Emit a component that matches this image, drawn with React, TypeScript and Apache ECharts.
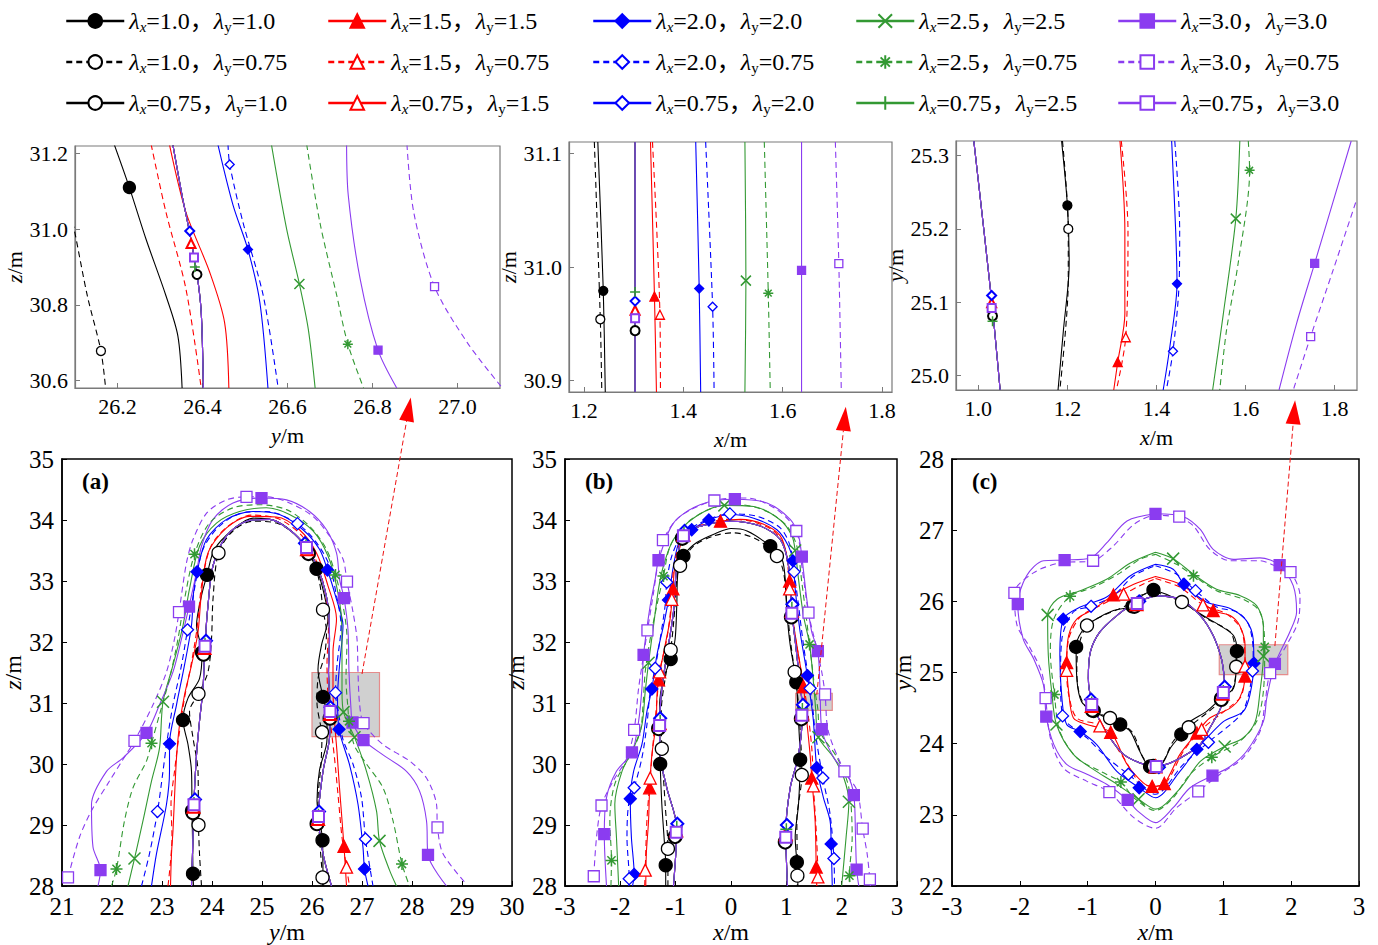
import React, { useEffect, useRef } from 'react';
import * as echarts from 'echarts';

// ---------------- labels ----------------
const LAMBDA_EQUAL = ['1.0', '1.5', '2.0', '2.5', '3.0'];
const LAMBDA_SMALL = '0.75';
const SERIES_NAMES = [
  ...LAMBDA_EQUAL.map((v) => `λx=${v}，λy=${v}`),
  ...LAMBDA_EQUAL.map((v) => `λx=${v}，λy=${LAMBDA_SMALL}`),
  ...LAMBDA_EQUAL.map((v) => `λx=${LAMBDA_SMALL}，λy=${v}`),
];
const COLORS = ['#000000', '#ff0000', '#0000ff', '#339933', '#8b3cf0'];

const X_NAMES = ['y', 'x', 'x', 'y', 'x', 'x'];
const Y_NAMES = ['z', 'z', 'y', 'z', 'z', 'y'];
const PANEL_TAGS = ['(a)', '(b)', '(c)'];

const X_RANGE = [[26.1, 27.1], [1.17, 1.82], [0.95, 1.85], [21, 30], [-3, 3], [-3, 3]];
const Y_RANGE = [[30.58, 31.22], [30.89, 31.11], [24.98, 25.32], [28, 35], [28, 35], [22, 28]];
const X_TICKS = [
  [26.2, 26.4, 26.6, 26.8, 27.0],
  [1.2, 1.4, 1.6, 1.8],
  [1.0, 1.2, 1.4, 1.6, 1.8],
  [21, 22, 23, 24, 25, 26, 27, 28, 29, 30],
  [-3, -2, -1, 0, 1, 2, 3],
  [-3, -2, -1, 0, 1, 2, 3],
];
const Y_TICKS = [
  [30.6, 30.8, 31.0, 31.2],
  [30.9, 31.0, 31.1],
  [25.0, 25.1, 25.2, 25.3],
  [28, 29, 30, 31, 32, 33, 34, 35],
  [28, 29, 30, 31, 32, 33, 34, 35],
  [22, 23, 24, 25, 26, 27, 28],
];

// zoom rectangles in the main panels
const RECT_A = [[26.0, 30.45], [27.35, 31.5]];
const RECT_B = [[1.17, 30.88], [1.83, 31.16]];
const RECT_C = [[0.94, 24.97], [1.95, 25.39]];

// ---------------- inset 1 (y, z) ----------------
const I1_S1 = [[26.192,31.225],[26.228,31.11],[26.267,30.974],[26.314,30.824],[26.342,30.718],[26.352,30.58]];
const I1_S2 = [[26.322,31.225],[26.361,31.045],[26.417,30.886],[26.452,30.753],[26.462,30.58]];
const I1_S3 = [[26.436,31.225],[26.472,31.063],[26.507,30.946],[26.535,30.806],[26.554,30.58]];
const I1_S4 = [[26.562,31.225],[26.598,31.0],[26.628,30.855],[26.649,30.735],[26.665,30.58]];
const I1_S5 = [[26.739,31.225],[26.743,31.089],[26.771,30.868],[26.813,30.68],[26.857,30.58]];
const I1_D1 = [[26.06,31.2],[26.098,31.0],[26.129,30.824],[26.161,30.678],[26.172,30.58]];
const I1_D2 = [[26.279,31.225],[26.314,31.045],[26.361,30.842],[26.397,30.58]];
const I1_D3 = [[26.46,31.225],[26.464,31.171],[26.495,31.019],[26.543,30.824],[26.578,30.58]];
const I1_D4 = [[26.645,31.225],[26.676,31.019],[26.716,30.824],[26.742,30.696],[26.779,30.58]];
const I1_D5 = [[26.881,31.225],[26.897,31.045],[26.946,30.848],[27.023,30.7],[27.102,30.585]];
const I1_075 = [[26.33,31.225],[26.352,31.089],[26.369,30.995],[26.387,30.881],[26.397,30.78],[26.402,30.58]];
const I1_MARKS = [
  [[26.228,31.11]], [], [[26.507,30.946]], [[26.628,30.855]], [[26.813,30.68]],
  [[26.161,30.678]], [], [[26.464,31.171]], [[26.742,30.696]], [[26.946,30.848]],
  [[26.387,30.88]], [[26.373,30.962]], [[26.37,30.995]], [[26.382,30.9]], [[26.38,30.925]],
];

// ---------------- inset 2 (x, z) ----------------
const I2_S1 = [[1.228,31.11],[1.239,30.979],[1.243,30.89]];
const I2_S2 = [[1.334,31.11],[1.342,30.974],[1.346,30.89]];
const I2_S3 = [[1.425,31.11],[1.432,30.981],[1.435,30.89]];
const I2_S4 = [[1.524,31.11],[1.526,30.988],[1.524,30.89]];
const I2_S5 = [[1.638,31.11],[1.638,30.997],[1.638,30.89]];
const I2_D1 = [[1.221,31.11],[1.233,30.954],[1.236,30.89]];
const I2_D2 = [[1.338,31.11],[1.353,30.958],[1.354,30.89]];
const I2_D3 = [[1.445,31.11],[1.459,30.965],[1.462,30.89]];
const I2_D4 = [[1.563,31.11],[1.571,30.977],[1.575,30.89]];
const I2_D5 = [[1.706,31.11],[1.713,31.003],[1.718,30.89]];
const I2_075 = [[1.303,31.11],[1.303,30.95],[1.303,30.89]];
const I2_MARKS = [
  [[1.239,30.979]], [[1.342,30.974]], [[1.432,30.981]], [[1.526,30.988]], [[1.638,30.997]],
  [[1.233,30.954]], [[1.353,30.958]], [[1.459,30.965]], [[1.571,30.977]], [[1.713,31.003]],
  [[1.303,30.944]], [[1.303,30.962]], [[1.303,30.97]], [[1.303,30.978]], [[1.303,30.955]],
];

// ---------------- inset 3 (x, y) ----------------
const I3_S1 = [[1.187,25.32],[1.2,25.232],[1.204,25.152],[1.191,25.061],[1.179,24.98]];
const I3_S2 = [[1.318,25.32],[1.329,25.198],[1.329,25.084],[1.313,25.018],[1.304,24.98]];
const I3_S3 = [[1.434,25.32],[1.443,25.198],[1.446,25.125],[1.43,25.039],[1.415,24.98]];
const I3_S4 = [[1.587,25.32],[1.578,25.214],[1.55,25.084],[1.526,24.98]];
const I3_S5 = [[1.837,25.32],[1.755,25.153],[1.714,25.07],[1.675,24.98]];
const I3_D1 = [[1.189,25.32],[1.202,25.2],[1.202,25.13],[1.183,24.98]];
const I3_D2 = [[1.321,25.32],[1.336,25.198],[1.331,25.052],[1.31,24.98]];
const I3_D3 = [[1.441,25.32],[1.452,25.198],[1.451,25.13],[1.437,25.033],[1.422,24.98]];
const I3_D4 = [[1.606,25.32],[1.609,25.28],[1.583,25.152],[1.557,25.061],[1.542,24.98]];
const I3_D5 = [[1.847,25.236],[1.796,25.143],[1.746,25.053],[1.707,24.98]];
const I3_075 = [[0.99,25.32],[1.03,25.102],[1.049,24.98]];
const I3_MARKS = [
  [[1.2,25.232]], [[1.313,25.018]], [[1.446,25.125]], [[1.578,25.214]], [[1.755,25.153]],
  [[1.202,25.2]], [[1.331,25.052]], [[1.437,25.033]], [[1.609,25.28]], [[1.746,25.053]],
  [[1.032,25.081]], [[1.03,25.099]], [[1.03,25.109]], [[1.032,25.074]], [[1.03,25.092]],
];

// ---------------- panel (a) (y, z) ----------------
const A_S1 = [[23.63,28.0],[23.62,28.2],[23.61,28.8],[23.6,29.23],[23.59,29.88],[23.52,30.32],[23.42,30.72],[23.52,31.08],[23.75,31.4],[23.8,31.83],[23.69,32.27],[23.79,32.76],[23.9,33.1],[24.05,33.52],[24.42,33.84],[24.82,34.03],[25.29,33.98],[25.75,33.68],[26.09,33.2],[26.25,32.76],[26.32,32.38],[26.19,31.95],[26.12,31.55],[26.22,31.1],[26.3,30.8],[26.3,30.4],[26.15,29.9],[26.1,29.4],[26.21,28.75],[26.22,28.0]];
const A_S2 = [[23.17,28.0],[23.19,28.53],[23.22,28.91],[23.25,29.45],[23.29,30.1],[23.35,30.64],[23.45,31.13],[23.59,31.62],[23.72,32.16],[23.79,32.81],[23.92,33.46],[24.29,33.87],[24.75,34.06],[25.29,34.05],[25.75,33.84],[26.09,33.46],[26.32,32.92],[26.49,32.38],[26.42,31.84],[26.42,31.19],[26.46,30.6],[26.5,30.2],[26.55,29.61],[26.64,28.65],[26.69,28.0]];
const A_S3 = [[22.79,28.0],[22.89,28.53],[23.09,29.34],[23.15,29.88],[23.15,30.33],[23.29,30.97],[23.45,31.62],[23.59,32.27],[23.63,32.8],[23.7,33.15],[23.89,33.68],[24.29,34.01],[24.82,34.14],[25.35,34.09],[25.82,33.84],[26.15,33.52],[26.31,33.18],[26.49,32.7],[26.62,32.27],[26.55,31.62],[26.51,31.08],[26.54,30.57],[26.75,29.99],[26.92,29.34],[27.02,28.63],[27.05,28.28],[27.12,28.0]];
const A_S4 = [[22.32,28.0],[22.45,28.45],[22.62,29.07],[22.79,29.72],[22.95,30.26],[23.02,31.02],[23.22,31.62],[23.42,32.27],[23.55,32.87],[23.75,33.57],[24.09,33.95],[24.55,34.14],[25.09,34.2],[25.55,34.09],[26.02,33.82],[26.32,33.41],[26.49,32.92],[26.59,32.38],[26.6,31.78],[26.6,31.2],[26.63,30.85],[26.85,30.44],[27.09,29.88],[27.29,29.23],[27.35,28.74],[27.55,28.26],[27.69,28.0]];
const A_S5 = [[21.72,28.0],[21.77,28.26],[21.62,28.64],[21.59,29.34],[21.89,29.88],[22.22,30.1],[22.69,30.51],[22.95,30.97],[23.22,31.51],[23.39,32.05],[23.54,32.58],[23.69,33.14],[23.79,33.57],[24.02,34.01],[24.42,34.28],[24.99,34.36],[25.49,34.33],[25.95,34.14],[26.29,33.84],[26.49,33.46],[26.55,33.03],[26.64,32.72],[26.72,32.2],[26.74,31.5],[26.78,30.9],[26.81,30.68],[27.03,30.39],[27.42,30.15],[27.89,29.88],[28.15,29.56],[28.29,29.07],[28.32,28.51],[28.69,28.0]];
const A_D1 = [[23.79,28.0],[23.75,28.53],[23.73,29.0],[23.72,29.88],[23.62,30.43],[23.55,30.86],[23.73,31.15],[23.92,31.51],[23.99,32.05],[24.02,32.7],[24.13,33.46],[24.42,33.82],[24.82,33.98],[25.29,33.95],[25.69,33.74],[25.99,33.41],[26.15,32.98],[26.22,32.53],[26.29,32.16],[26.25,31.78],[26.12,31.4],[26.1,31.0],[26.16,30.68],[26.2,30.52],[26.18,30.0],[26.12,29.4],[26.15,28.8],[26.21,28.14],[26.22,28.0]];
const A_D2 = [[23.12,28.0],[23.2,28.8],[23.18,29.34],[23.25,29.88],[23.35,30.53],[23.45,31.08],[23.58,31.62],[23.7,32.22],[23.8,32.98],[23.98,33.57],[24.32,33.9],[24.8,34.08],[25.33,34.02],[25.8,33.74],[26.1,33.3],[26.25,32.87],[26.33,32.27],[26.3,31.62],[26.32,31.1],[26.38,30.6],[26.45,30.1],[26.52,29.5],[26.6,28.8],[26.69,28.31],[26.75,28.0]];
const A_D3 = [[22.59,28.0],[22.75,28.53],[22.91,29.22],[23.02,29.88],[23.09,30.32],[23.22,30.97],[23.39,31.62],[23.51,32.2],[23.65,32.87],[23.82,33.52],[24.15,33.9],[24.62,34.12],[25.09,34.14],[25.71,33.94],[26.09,33.63],[26.35,33.25],[26.49,32.76],[26.58,32.27],[26.5,31.62],[26.47,31.17],[26.54,30.8],[26.62,30.4],[26.82,30.0],[26.99,29.45],[27.07,28.77],[27.22,28.0]];
const A_D4 = [[21.99,28.0],[22.09,28.28],[22.25,29.07],[22.42,29.61],[22.69,30.05],[22.79,30.34],[22.95,30.81],[23.15,31.4],[23.32,32.05],[23.45,32.7],[23.65,33.44],[23.95,33.95],[24.42,34.2],[24.95,34.25],[25.49,34.17],[25.95,33.9],[26.29,33.52],[26.47,33.1],[26.62,32.6],[26.7,32.05],[26.68,31.4],[26.72,30.9],[26.74,30.7],[26.85,30.3],[27.09,30.0],[27.42,29.61],[27.62,29.07],[27.8,28.36],[27.95,28.0]];
const A_D5 = [[21.12,28.14],[21.35,28.8],[21.6,29.25],[21.95,29.72],[22.2,30.05],[22.45,30.38],[22.82,30.97],[23.09,31.51],[23.25,32.05],[23.34,32.49],[23.49,33.3],[23.62,33.68],[23.9,34.12],[24.29,34.33],[24.69,34.38],[25.09,34.38],[25.55,34.28],[26.02,34.06],[26.35,33.74],[26.62,33.36],[26.7,32.99],[26.82,32.49],[26.9,32.05],[26.92,31.51],[26.95,31.0],[27.03,30.67],[27.42,30.32],[27.95,30.05],[28.29,29.77],[28.49,29.34],[28.51,28.96],[28.62,28.53],[29.1,28.02]];
const A_075 = [[23.59,28.0],[23.62,28.8],[23.64,29.4],[23.69,30.15],[23.75,30.7],[23.82,31.24],[23.86,31.95],[23.92,32.6],[24.02,33.25],[24.29,33.74],[24.69,33.98],[25.15,34.01],[25.55,33.84],[25.89,33.55],[26.15,33.14],[26.32,32.6],[26.35,32.05],[26.33,31.51],[26.36,30.9],[26.35,30.43],[26.22,29.88],[26.13,29.15],[26.22,28.53],[26.39,28.0]];
const A_MARKS = [
  [[23.62,28.2],[23.6,29.23],[23.42,30.72],[23.8,31.83],[23.9,33.1],[26.09,33.2],[26.22,31.1],[26.21,28.75]],
  [[26.64,28.65]],
  [[23.15,30.33],[23.7,33.15],[26.31,33.18],[26.54,30.57],[27.05,28.28]],
  [[22.45,28.45],[23.02,31.02],[26.63,30.85],[26.85,30.44],[27.35,28.74]],
  [[21.77,28.26],[22.69,30.51],[23.54,32.58],[24.99,34.36],[26.64,32.72],[26.81,30.68],[27.03,30.39],[28.32,28.51]],
  [[23.73,29.0],[23.73,31.15],[24.13,33.46],[26.22,32.53],[26.2,30.52],[26.21,28.14]],
  [[26.69,28.31]],
  [[22.91,29.22],[23.51,32.2],[25.71,33.94],[26.47,31.17],[27.07,28.77]],
  [[22.09,28.28],[22.79,30.34],[23.65,33.44],[26.47,33.1],[26.74,30.7],[27.8,28.36]],
  [[21.12,28.14],[22.45,30.38],[23.34,32.49],[24.69,34.38],[26.7,32.99],[27.03,30.67],[28.51,28.96]],
  [[23.62,29.2],[23.83,31.8],[25.93,33.45],[26.36,30.75],[26.1,29.02]],
  [[23.63,29.3],[23.85,31.9],[25.9,33.52],[26.36,30.82],[26.12,29.1]],
  [[23.66,29.42],[23.88,32.02],[25.86,33.62],[26.37,30.93],[26.14,29.22]],
  [[23.64,29.36],[23.86,31.97],[25.88,33.58],[26.36,30.88],[26.13,29.17]],
  [[23.64,29.33],[23.86,31.93],[25.89,33.55],[26.36,30.86],[26.13,29.14]],
];

// ---------------- panel (b) (x, z) ----------------
const B_S1 = [[-1.18,28.0],[-1.18,28.34],[-1.21,28.8],[-1.25,29.34],[-1.28,30.0],[-1.29,30.43],[-1.29,30.97],[-1.22,31.4],[-1.09,31.72],[-1.01,32.05],[-0.98,32.6],[-0.96,33.14],[-0.86,33.41],[-0.62,33.63],[-0.25,33.79],[0,33.86],[0.29,33.82],[0.71,33.57],[0.92,33.36],[0.98,33.03],[1.01,32.49],[1.07,31.95],[1.18,31.34],[1.22,30.7],[1.25,30.07],[1.22,29.34],[1.16,28.8],[1.19,28.39],[1.21,28.0]];
const B_S2 = [[-1.54,28.0],[-1.53,28.53],[-1.49,29.07],[-1.47,29.61],[-1.43,30.15],[-1.35,30.7],[-1.34,31.08],[-1.31,31.38],[-1.19,31.95],[-1.1,32.38],[-1.05,32.87],[-1.01,33.25],[-0.83,33.76],[-0.56,33.9],[-0.19,33.98],[0.17,34.01],[0.59,33.93],[0.89,33.74],[1.01,33.41],[1.06,33.0],[1.1,32.49],[1.19,31.95],[1.31,31.27],[1.37,30.7],[1.43,30.15],[1.46,29.77],[1.52,29.07],[1.54,28.31],[1.55,28.0]];
const B_S3 = [[-1.78,28.0],[-1.75,28.19],[-1.8,28.8],[-1.82,29.43],[-1.76,29.88],[-1.61,30.32],[-1.52,30.86],[-1.43,31.23],[-1.34,31.78],[-1.22,32.27],[-1.13,32.69],[-1.04,33.25],[-0.92,33.68],[-0.71,33.84],[-0.4,34.0],[-0.01,34.09],[0.41,34.03],[0.83,33.84],[1.04,33.57],[1.12,33.33],[1.16,32.87],[1.25,32.16],[1.38,31.45],[1.45,31.0],[1.49,30.7],[1.55,29.94],[1.67,29.45],[1.79,29.07],[1.81,28.69],[1.83,28.0]];
const B_S4 = [[-2.03,28.0],[-2.07,28.8],[-2.1,29.34],[-1.97,29.88],[-1.76,30.26],[-1.61,30.64],[-1.55,31.19],[-1.49,31.66],[-1.4,32.27],[-1.31,32.87],[-1.22,33.25],[-1.04,33.68],[-0.68,34.03],[-0.12,34.24],[0.41,34.22],[0.89,34.0],[1.1,33.74],[1.16,33.5],[1.22,33.03],[1.31,32.43],[1.42,31.96],[1.5,31.24],[1.53,30.9],[1.58,30.44],[1.86,30.1],[2.04,29.77],[2.13,29.38],[2.08,28.8],[2.0,28.0]];
const B_S5 = [[-2.25,28.0],[-2.29,28.85],[-2.25,29.45],[-2.07,29.88],[-1.79,30.19],[-1.67,30.7],[-1.61,31.24],[-1.58,31.79],[-1.46,32.6],[-1.37,33.03],[-1.31,33.34],[-1.04,33.95],[-0.56,34.25],[0.07,34.34],[0.65,34.28],[1.07,34.01],[1.22,33.74],[1.28,33.4],[1.37,32.7],[1.46,32.16],[1.57,31.85],[1.61,31.19],[1.64,30.57],[1.86,30.1],[2.1,29.83],[2.22,29.49],[2.25,28.8],[2.27,28.27],[2.31,28.0]];
const B_D1 = [[-1.14,28.0],[-1.14,28.61],[-1.19,29.34],[-1.25,30.25],[-1.26,30.86],[-1.19,31.4],[-1.09,31.87],[-1.01,32.6],[-0.98,33.03],[-0.92,33.25],[-0.68,33.57],[-0.31,33.74],[0.05,33.79],[0.47,33.68],[0.83,33.41],[0.95,33.14],[1.01,32.6],[1.07,32.05],[1.15,31.51],[1.22,30.97],[1.28,29.82],[1.19,29.07],[1.2,28.17],[1.2,28.0]];
const B_D2 = [[-1.56,28.0],[-1.55,28.26],[-1.52,29.07],[-1.46,29.77],[-1.4,30.43],[-1.34,31.02],[-1.29,31.51],[-1.16,32.05],[-1.07,32.7],[-1.03,33.25],[-0.86,33.74],[-0.5,33.93],[-0.07,34.01],[0.35,33.98],[0.77,33.82],[0.98,33.52],[1.06,32.87],[1.13,32.27],[1.25,31.62],[1.37,30.97],[1.46,30.26],[1.49,29.64],[1.54,28.91],[1.57,28.15],[1.57,28.0]];
const B_D3 = [[-1.85,28.0],[-1.84,28.12],[-1.88,28.8],[-1.85,29.34],[-1.75,29.61],[-1.61,30.1],[-1.52,30.64],[-1.46,31.19],[-1.37,31.57],[-1.28,32.05],[-1.19,32.6],[-1.16,32.98],[-1.07,33.41],[-0.89,33.74],[-0.56,33.95],[-0.02,34.1],[0.47,34.06],[0.89,33.87],[1.07,33.57],[1.14,33.15],[1.22,32.6],[1.31,31.95],[1.43,31.24],[1.48,30.9],[1.52,30.53],[1.66,29.77],[1.79,29.18],[1.86,28.45],[1.87,28.0]];
const B_D4 = [[-2.17,28.0],[-2.16,28.42],[-2.19,29.07],[-2.1,29.67],[-1.82,30.15],[-1.64,30.53],[-1.59,30.97],[-1.55,31.51],[-1.46,32.05],[-1.34,32.6],[-1.22,33.08],[-1.1,33.57],[-0.8,33.95],[-0.32,34.2],[0.17,34.25],[0.65,34.14],[1.01,33.9],[1.19,33.57],[1.28,32.98],[1.42,31.96],[1.52,31.19],[1.57,30.9],[1.61,30.53],[1.92,30.1],[2.13,29.61],[2.19,28.8],[2.14,28.17],[2.16,28.0]];
const B_D5 = [[-2.48,28.16],[-2.43,28.8],[-2.34,29.32],[-2.13,29.72],[-1.88,30.1],[-1.75,30.56],[-1.67,31.24],[-1.58,31.78],[-1.51,32.19],[-1.4,32.81],[-1.31,33.36],[-1.23,33.67],[-0.92,34.06],[-0.3,34.32],[0.29,34.36],[0.83,34.17],[1.18,33.82],[1.28,33.25],[1.4,32.48],[1.55,31.89],[1.64,31.51],[1.7,31.14],[1.76,30.53],[2.05,29.88],[2.28,29.56],[2.38,28.94],[2.46,28.53],[2.51,28.11],[2.52,28.0]];
const B_075 = [[-1.04,28.0],[-0.98,28.95],[-1.16,29.61],[-1.28,30.15],[-1.29,30.66],[-1.25,31.24],[-1.16,31.78],[-1.04,32.49],[-0.99,33.14],[-0.87,33.76],[-0.55,33.9],[-0.01,33.98],[0.53,33.9],[0.89,33.68],[1.04,33.25],[1.1,32.5],[1.19,31.78],[1.29,30.85],[1.22,30.15],[1.07,29.61],[0.99,28.9],[1.02,28.0]];
const B_MARKS = [
  [[-1.18,28.34],[-1.28,30.0],[-1.09,31.72],[-0.86,33.41],[0.71,33.57],[1.18,31.34],[1.25,30.07],[1.19,28.39]],
  [[-1.47,29.61],[-1.31,31.38],[-1.05,32.87],[-0.19,33.98],[1.06,33.0],[1.31,31.27],[1.46,29.77],[1.54,28.31]],
  [[-1.75,28.19],[-1.82,29.43],[-1.43,31.23],[-1.13,32.69],[-0.71,33.84],[-0.4,34.0],[1.12,33.33],[1.38,31.45],[1.55,29.94],[1.81,28.69]],
  [[-1.49,31.66],[-0.12,34.24],[1.16,33.5],[1.58,30.44],[2.13,29.38]],
  [[-2.29,28.85],[-1.79,30.19],[-1.58,31.79],[-1.31,33.34],[0.07,34.34],[1.28,33.4],[1.57,31.85],[1.64,30.57],[2.22,29.49],[2.27,28.27]],
  [[-1.14,28.61],[-1.25,30.25],[-1.09,31.87],[-0.92,33.25],[0.83,33.41],[1.15,31.51],[1.28,29.82],[1.2,28.17]],
  [[-1.55,28.26],[-1.46,29.77],[-1.29,31.51],[-1.07,32.7],[1.06,32.87],[1.49,29.64],[1.57,28.15]],
  [[-1.84,28.12],[-1.75,29.61],[-1.37,31.57],[-1.16,32.98],[-0.02,34.1],[1.14,33.15],[1.43,31.24],[1.66,29.77],[1.86,28.45]],
  [[-2.16,28.42],[-1.22,33.08],[1.42,31.96],[2.14,28.17]],
  [[-2.48,28.16],[-2.34,29.32],[-1.75,30.56],[-1.51,32.19],[-1.23,33.67],[-0.3,34.32],[1.18,33.82],[1.4,32.48],[1.7,31.14],[2.05,29.88],[2.38,28.94],[2.51,28.11]],
  [[-1.01,28.81],[-1.31,30.58],[-0.88,33.7],[1.09,32.41],[1.27,30.74],[0.98,28.72]],
  [[-0.99,28.91],[-1.29,30.67],[-0.86,33.76],[1.1,32.51],[1.28,30.84],[0.99,28.85]],
  [[-0.97,29.02],[-1.28,30.75],[-0.84,33.82],[1.11,32.62],[1.3,30.97],[1.01,29.0]],
  [[-0.98,28.97],[-1.28,30.71],[-0.85,33.79],[1.1,32.56],[1.29,30.9],[1.0,28.93]],
  [[-0.99,28.88],[-1.29,30.63],[-0.86,33.74],[1.1,32.47],[1.28,30.8],[0.99,28.8]],
];

// ---------------- panel (c) (x, y) ----------------
const C_S1 = [[-0.03,26.16],[0.16,26.1],[0.39,25.99],[0.7,25.8],[0.95,25.66],[1.15,25.52],[1.2,25.3],[1.19,25.06],[1.15,24.78],[0.97,24.64],[0.75,24.45],[0.51,24.31],[0.38,24.13],[0.22,23.94],[0.09,23.71],[-0.08,23.68],[-0.23,23.89],[-0.37,24.17],[-0.52,24.27],[-0.72,24.36],[-0.91,24.46],[-1.09,24.59],[-1.16,24.92],[-1.17,25.36],[-1.09,25.57],[-0.91,25.73],[-0.62,25.87],[-0.34,25.93],[-0.18,26.09],[-0.03,26.16]];
const C_S2 = [[0,26.35],[0.41,26.22],[0.85,25.87],[1.1,25.8],[1.24,25.66],[1.32,25.38],[1.32,24.95],[1.24,24.64],[1.1,24.5],[0.8,24.36],[0.61,24.15],[0.36,23.85],[0.13,23.44],[-0.05,23.4],[-0.18,23.45],[-0.42,23.71],[-0.66,24.16],[-1.01,24.27],[-1.21,24.36],[-1.28,24.73],[-1.31,25.14],[-1.28,25.52],[-1.16,25.75],[-0.91,25.89],[-0.62,26.09],[-0.32,26.24],[0,26.35]];
const C_S3 = [[0,26.52],[0.26,26.45],[0.42,26.24],[0.75,25.99],[1.1,25.9],[1.34,25.73],[1.44,25.47],[1.45,25.13],[1.39,24.68],[1.29,24.45],[1.0,24.31],[0.61,23.92],[0.36,23.61],[0,23.24],[-0.24,23.38],[-0.57,23.61],[-0.87,23.99],[-1.11,24.17],[-1.31,24.27],[-1.38,24.64],[-1.41,25.24],[-1.36,25.75],[-1.11,25.92],[-0.72,26.06],[-0.37,26.36],[0,26.52]];
const C_S4 = [[0,26.69],[0.26,26.6],[0.56,26.38],[0.9,26.17],[1.25,26.08],[1.49,25.94],[1.59,25.66],[1.59,25.23],[1.54,24.73],[1.47,24.31],[1.29,24.08],[1.02,23.96],[0.66,23.75],[0.37,23.38],[0,23.08],[-0.25,23.22],[-0.57,23.43],[-0.87,23.61],[-1.21,23.85],[-1.46,24.27],[-1.53,24.73],[-1.58,25.24],[-1.59,25.81],[-1.45,26.03],[-1.11,26.15],[-0.72,26.31],[-0.37,26.54],[0,26.69]];
const C_S5 = [[0,27.23],[0.41,27.19],[0.66,27.01],[0.85,26.73],[1.15,26.59],[1.54,26.61],[1.83,26.51],[2.03,26.22],[2.08,25.85],[1.98,25.57],[1.76,25.12],[1.64,24.64],[1.59,24.31],[1.34,23.89],[1.1,23.68],[0.84,23.55],[0.51,23.38],[0.26,23.1],[0,22.89],[-0.27,23.06],[-0.41,23.21],[-0.72,23.43],[-1.01,23.57],[-1.31,23.71],[-1.5,23.99],[-1.61,24.38],[-1.65,24.82],[-1.8,25.2],[-1.95,25.47],[-2.03,25.96],[-1.9,26.36],[-1.65,26.57],[-1.34,26.58],[-0.96,26.61],[-0.72,26.82],[-0.42,27.13],[0,27.23]];
const C_D1 = [[0,26.13],[0.39,25.99],[0.75,25.76],[1.1,25.57],[1.17,25.38],[1.19,25.08],[1.12,24.73],[0.9,24.54],[0.49,24.23],[0.26,24.03],[0.12,23.76],[0,23.66],[-0.18,23.8],[-0.35,24.17],[-0.67,24.36],[-1.01,24.5],[-1.13,24.73],[-1.16,25.06],[-1.13,25.38],[-1.01,25.66],[-0.77,25.8],[-0.43,25.94],[-0.23,26.08],[0,26.13]];
const C_D2 = [[0,26.32],[0.36,26.2],[0.7,25.95],[1.05,25.82],[1.27,25.59],[1.32,25.09],[1.27,24.68],[1.1,24.52],[0.68,24.2],[0.41,23.89],[0.17,23.47],[0,23.4],[-0.23,23.45],[-0.47,23.8],[-0.82,24.25],[-1.16,24.36],[-1.28,24.69],[-1.31,25.03],[-1.28,25.47],[-1.11,25.78],[-0.82,25.94],[-0.47,26.1],[-0.23,26.22],[0,26.32]];
const C_D3 = [[0,26.5],[0.31,26.38],[0.59,26.15],[0.9,25.92],[1.2,25.85],[1.37,25.68],[1.44,25.3],[1.43,25.02],[1.36,24.64],[1.25,24.4],[0.78,24.02],[0.41,23.71],[0,23.29],[-0.4,23.57],[-0.71,23.8],[-1.01,24.08],[-1.37,24.39],[-1.4,24.92],[-1.38,25.47],[-1.21,25.85],[-0.95,25.93],[-0.62,26.08],[-0.32,26.36],[0,26.5]];
const C_D4 = [[0,26.66],[0.31,26.52],[0.56,26.36],[0.9,26.15],[1.29,26.03],[1.54,25.85],[1.61,25.36],[1.59,24.73],[1.49,24.31],[1.24,24.03],[0.83,23.81],[0.51,23.57],[0.26,23.24],[0,23.06],[-0.32,23.24],[-0.51,23.46],[-0.81,23.61],[-1.16,23.8],[-1.41,24.17],[-1.49,24.69],[-1.55,25.29],[-1.5,25.75],[-1.26,26.07],[-0.91,26.2],[-0.52,26.4],[-0.23,26.59],[0,26.66]];
const C_D5 = [[0.35,27.19],[0.56,27.06],[0.8,26.73],[1.1,26.57],[1.54,26.57],[1.83,26.47],[1.99,26.41],[2.13,26.08],[2.1,25.71],[1.93,25.38],[1.69,24.99],[1.61,24.54],[1.54,24.17],[1.29,23.8],[0.95,23.57],[0.63,23.33],[0.31,23.1],[0,22.81],[-0.32,22.96],[-0.68,23.32],[-1.01,23.47],[-1.36,23.66],[-1.55,24.08],[-1.62,24.64],[-1.68,25.01],[-1.87,25.38],[-2.04,25.66],[-2.08,26.12],[-1.8,26.4],[-1.41,26.54],[-0.92,26.57],[-0.62,26.78],[-0.32,27.08],[0,27.21],[0.35,27.19]];
const C_075 = [[0,26.08],[0.36,26.03],[0.66,25.8],[0.85,25.52],[0.97,25.2],[1.01,24.96],[1.02,24.75],[0.96,24.5],[0.8,24.22],[0.66,23.99],[0.46,23.85],[0.22,23.73],[0,23.68],[-0.23,23.73],[-0.47,23.85],[-0.67,24.08],[-0.84,24.36],[-0.94,24.59],[-0.99,24.92],[-0.96,25.29],[-0.82,25.57],[-0.57,25.8],[-0.3,25.98],[0,26.08]];
const C_MARKS = [
  [[-0.03,26.16],[1.2,25.3],[0.97,24.64],[0.38,24.13],[-0.08,23.68],[-0.52,24.27],[-0.91,24.46],[-1.17,25.36],[-0.34,25.93]],
  [[0.85,25.87],[1.32,24.95],[0.61,24.15],[0.13,23.44],[-0.05,23.4],[-0.66,24.16],[-1.31,25.14],[-0.62,26.09]],
  [[0.42,26.24],[1.45,25.13],[0.61,23.92],[-0.24,23.38],[-1.11,24.17],[-1.36,25.75]],
  [[0.26,26.6],[1.59,25.23],[1.02,23.96],[-0.25,23.22],[-1.46,24.27],[-1.59,25.81]],
  [[0,27.23],[1.83,26.51],[1.76,25.12],[0.84,23.55],[-0.41,23.21],[-1.61,24.38],[-2.03,25.96],[-1.34,26.58]],
  [[0.39,25.99],[1.19,25.08],[0.49,24.23],[-0.67,24.36],[-1.01,25.66]],
  [[0.7,25.95],[1.32,25.09],[0.68,24.2],[-0.82,24.25],[-1.31,25.03],[-0.47,26.1]],
  [[0.59,26.15],[1.43,25.02],[0.78,24.02],[-0.4,23.57],[-1.37,24.39],[-0.95,25.93]],
  [[0.56,26.36],[1.61,25.36],[0.83,23.81],[-0.51,23.46],[-1.49,24.69],[-1.26,26.07]],
  [[0.35,27.19],[1.99,26.41],[1.69,24.99],[0.63,23.33],[-0.68,23.32],[-1.62,24.64],[-2.08,26.12],[-0.92,26.57]],
  [[-0.31,25.93],[-0.93,24.47],[0.97,24.62],[-0.03,23.68]],
  [[-0.28,25.96],[-0.94,24.53],[0.99,24.7],[0.0,23.68]],
  [[-0.24,26.0],[-0.95,24.62],[1.02,24.8],[0.05,23.67]],
  [[-0.26,25.98],[-0.94,24.58],[1.0,24.74],[0.03,23.67]],
  [[-0.27,25.97],[-0.94,24.55],[1.0,24.72],[0.01,23.68]],
];

const PANEL_PATHS = [
  [I1_S1, I1_S2, I1_S3, I1_S4, I1_S5, I1_D1, I1_D2, I1_D3, I1_D4, I1_D5, I1_075, I1_075, I1_075, I1_075, I1_075],
  [I2_S1, I2_S2, I2_S3, I2_S4, I2_S5, I2_D1, I2_D2, I2_D3, I2_D4, I2_D5, I2_075, I2_075, I2_075, I2_075, I2_075],
  [I3_S1, I3_S2, I3_S3, I3_S4, I3_S5, I3_D1, I3_D2, I3_D3, I3_D4, I3_D5, I3_075, I3_075, I3_075, I3_075, I3_075],
  [A_S1, A_S2, A_S3, A_S4, A_S5, A_D1, A_D2, A_D3, A_D4, A_D5, A_075, A_075, A_075, A_075, A_075],
  [B_S1, B_S2, B_S3, B_S4, B_S5, B_D1, B_D2, B_D3, B_D4, B_D5, B_075, B_075, B_075, B_075, B_075],
  [C_S1, C_S2, C_S3, C_S4, C_S5, C_D1, C_D2, C_D3, C_D4, C_D5, C_075, C_075, C_075, C_075, C_075],
];
const PANEL_MARKS = [I1_MARKS, I2_MARKS, I3_MARKS, A_MARKS, B_MARKS, C_MARKS];
const PANEL_RECTS = [RECT_A, RECT_B, RECT_C];

// ---------------- layout ----------------
const GRIDS = [
  { left: 75, top: 146, width: 425, height: 242 },
  { left: 569, top: 142, width: 323, height: 250 },
  { left: 956, top: 141, width: 401, height: 249 },
  { left: 62, top: 459, width: 450, height: 430 },
  { left: 565, top: 459, width: 332, height: 430 },
  { left: 952, top: 459, width: 407, height: 430 },
];
const X_NAME_GAP = [36, 36, 36, 34, 34, 34];
const Y_NAME_GAP = [44, 47, 43, 37, 35, 34];
const LEGEND_X = [65, 327, 592, 855, 1117];

const SERIF = "'Liberation Serif', 'Times New Roman', serif";
const SERIF_CJK = "'Liberation Serif', 'Noto Sans CJK SC', serif";

const X_PATH = 'path://M0,0L10,10M10,0L0,10';
const AST_PATH = 'path://M5,0L5,10M0,5L10,5M1.6,1.6L8.4,8.4M8.4,1.6L1.6,8.4';
const PLUS_PATH = 'path://M5,0L5,10M0,5L10,5';
const SYMBOLS = [
  ['circle', 'triangle', 'diamond', X_PATH, 'rect'],
  ['circle', 'triangle', 'diamond', AST_PATH, 'rect'],
  ['circle', 'triangle', 'diamond', PLUS_PATH, 'rect'],
];
const MAIN_SIZE = [13, 12, 12, 12, 11];
const INSET_SIZE = [9, 9, 9, 10, 8];

function toPx(g: number, x: number, y: number): [number, number] {
  const G = GRIDS[g];
  const [x0, x1] = X_RANGE[g];
  const [y0, y1] = Y_RANGE[g];
  return [G.left + ((x - x0) / (x1 - x0)) * G.width, G.top + ((y1 - y) / (y1 - y0)) * G.height];
}

// arrow from zoom rectangle (main panel) to the inset below its axis
const ARROWS = [
  { from: [3, 27.0, 31.5], to: [0, 26.89, 30.555] },
  { from: [4, 1.55, 31.16], to: [1, 1.727, 30.877] },
  { from: [5, 1.76, 25.39], to: [2, 1.711, 24.966] },
];

function buildOption() {
  const grid = GRIDS.map((g, i) => ({
    ...g,
    show: true,
    backgroundColor: 'transparent',
    borderColor: i < 3 ? '#7a7a7a' : '#000',
    borderWidth: i < 3 ? 1.2 : 1.5,
  }));

  const axisCommon = (i: number, isX: boolean) => {
    const inset = i < 3;
    const frame = inset ? '#7a7a7a' : '#000';
    const fs = inset ? 22 : 25;
    const ticks = isX ? X_TICKS[i] : Y_TICKS[i];
    const range = isX ? X_RANGE[i] : Y_RANGE[i];
    return {
      type: 'value',
      gridIndex: i,
      min: range[0],
      max: range[1],
      name: `{i|${isX ? X_NAMES[i] : Y_NAMES[i]}}/m`,
      nameLocation: 'middle',
      nameGap: isX ? X_NAME_GAP[i] : Y_NAME_GAP[i],
      nameTextStyle: {
        fontFamily: SERIF,
        fontSize: inset ? 22 : 24,
        color: '#000',
        rich: { i: { fontFamily: SERIF, fontStyle: 'italic', fontSize: inset ? 22 : 24, color: '#000' } },
      },
      axisLine: { onZero: false, lineStyle: { color: frame, width: inset ? 1.2 : 1.5 } },
      axisTick: { show: true, inside: true, length: 5, customValues: ticks, lineStyle: { color: frame } },
      axisLabel: {
        customValues: ticks,
        fontFamily: SERIF,
        fontSize: fs,
        color: '#000',
        margin: inset ? 7 : 8,
        formatter: (v: number) => (inset ? v.toFixed(1) : String(Math.round(v))),
      },
      splitLine: { show: false },
    };
  };

  const xAxis = GRIDS.map((_, i) => axisCommon(i, true));
  const yAxis = GRIDS.map((_, i) => axisCommon(i, false));

  const series: any[] = [];
  PANEL_PATHS.forEach((paths, g) => {
    const inset = g < 3;
    for (let i = 0; i < 15; i++) {
      const row = Math.floor(i / 5);
      const col = i % 5;
      const color = COLORS[col];
      const sym = SYMBOLS[row][col];
      const stroke = col === 3;
      const fill = stroke ? 'rgba(0,0,0,0)' : row === 0 ? color : '#ffffff';
      const bw = stroke ? 1.5 : row === 2 ? 2 : 1.3;
      let size = inset ? INSET_SIZE[col] : MAIN_SIZE[col];
      if (inset && i === 0 && g === 0) size = 12;
      const style = { color: fill, borderColor: color, borderWidth: bw };
      series.push({
        type: 'line',
        name: SERIES_NAMES[i],
        xAxisIndex: g,
        yAxisIndex: g,
        data: paths[i],
        smooth: 0.3,
        showSymbol: false,
        symbol: sym,
        symbolSize: size,
        lineStyle: { color, width: 1.1, type: row === 1 ? [6, 4] : 'solid' },
        itemStyle: style,
        emphasis: { disabled: true },
        silent: true,
        markPoint: {
          symbol: sym,
          symbolSize: size,
          silent: true,
          label: { show: false },
          itemStyle: style,
          data: PANEL_MARKS[g][i].map((c) => ({ coord: c })),
        },
      });
    }
  });

  PANEL_RECTS.forEach((r, k) => {
    series.push({
      type: 'line',
      xAxisIndex: 3 + k,
      yAxisIndex: 3 + k,
      data: [],
      silent: true,
      z: 10,
      markArea: {
        silent: true,
        itemStyle: { color: 'rgba(170,170,170,0.55)', borderColor: '#e58c8c', borderWidth: 1.2 },
        data: [[{ coord: r[0] }, { coord: r[1] }]],
      },
    });
  });

  const graphic: any[] = [];
  ARROWS.forEach((a) => {
    const [sx, sy] = toPx(a.from[0], a.from[1], a.from[2]);
    const [tx, ty] = toPx(a.to[0], a.to[1], a.to[2]);
    const dx = tx - sx;
    const dy = ty - sy;
    const len = Math.hypot(dx, dy);
    const ux = dx / len;
    const uy = dy / len;
    const hl = 24;
    const hw = 7.5;
    const bx = tx - ux * hl;
    const by = ty - uy * hl;
    graphic.push({
      type: 'line',
      z: 100,
      silent: true,
      shape: { x1: sx, y1: sy, x2: bx, y2: by },
      style: { stroke: '#ee1111', lineWidth: 1, lineDash: [5, 3] },
    });
    graphic.push({
      type: 'polygon',
      z: 100,
      silent: true,
      shape: { points: [[tx, ty], [bx - uy * hw, by + ux * hw], [bx + uy * hw, by - ux * hw]] },
      style: { fill: '#ff0000' },
    });
  });
  PANEL_TAGS.forEach((t, k) => {
    graphic.push({
      type: 'text',
      left: GRIDS[3 + k].left + 20,
      top: GRIDS[3 + k].top + 11,
      silent: true,
      style: { text: t, fill: '#000', font: `bold 23px ${SERIF}` },
    });
  });

  const rich = {
    t: { fontFamily: SERIF_CJK, fontSize: 24, lineHeight: 26, color: '#000' },
    g: { fontFamily: SERIF, fontSize: 24, fontStyle: 'italic', lineHeight: 26, color: '#000' },
    sx: { fontFamily: SERIF, fontSize: 15, fontStyle: 'italic', lineHeight: 12, verticalAlign: 'bottom', color: '#000' },
    sy: { fontFamily: SERIF, fontSize: 15, lineHeight: 12, verticalAlign: 'bottom', color: '#000' },
  };
  const legend = LEGEND_X.map((x, c) => ({
    orient: 'vertical',
    left: x,
    top: 9,
    padding: 0,
    itemWidth: 58,
    itemHeight: 17,
    itemGap: 16,
    selectedMode: false,
    data: [SERIES_NAMES[c], SERIES_NAMES[5 + c], SERIES_NAMES[10 + c]],
    lineStyle: { width: 2.5 },
    textStyle: { color: '#000', fontFamily: SERIF, fontSize: 24, rich },
    formatter: (name: string) => {
      const m = name.match(/λx=([\d.]+)，λy=([\d.]+)/);
      if (!m) return name;
      return `{g|λ}{sx|x}{t|=${m[1]}，}{g|λ}{sy|y}{t|=${m[2]}}`;
    },
  }));

  return {
    animation: false,
    backgroundColor: '#ffffff',
    grid,
    xAxis,
    yAxis,
    legend,
    series,
    graphic,
  };
}

export default function App() {
  const ref = useRef<HTMLDivElement>(null);
  useEffect(() => {
    if (!ref.current) return;
    const chart = echarts.init(ref.current, null, { renderer: 'svg' });
    chart.setOption(buildOption() as any);
    return () => chart.dispose();
  }, []);
  return (
    <div
      ref={ref}
      style={{ position: 'fixed', left: 0, top: 0, width: 1378, height: 945, background: '#fff' }}
    />
  );
}
